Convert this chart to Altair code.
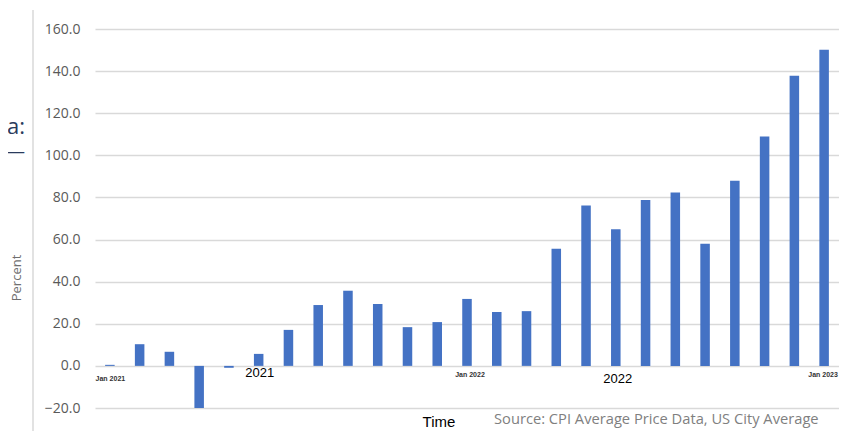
import altair as alt
import pandas as pd

months = ["Jan 2021", "Feb 2021", "Mar 2021", "Apr 2021", "May 2021", "Jun 2021",
          "Jul 2021", "Aug 2021", "Sep 2021", "Oct 2021", "Nov 2021", "Dec 2021",
          "Jan 2022", "Feb 2022", "Mar 2022", "Apr 2022", "May 2022", "Jun 2022",
          "Jul 2022", "Aug 2022", "Sep 2022", "Oct 2022", "Nov 2022", "Dec 2022",
          "Jan 2023"]
percent = [0.5, 10.3, 6.7, -20.0, -0.9, 5.7, 17.1, 28.9, 35.7, 29.4, 18.4, 20.8,
           31.8, 25.6, 26.0, 55.6, 76.2, 64.9, 78.8, 82.4, 58.0, 87.9, 109.0, 137.8, 150.2]
y_ticks = [-20, 0, 20, 40, 60, 80, 100, 120, 140, 160]

df = pd.DataFrame({"month": months, "pct": percent})

xs = alt.X("month:N", sort=months,
           scale=alt.Scale(domain=months, paddingInner=0.68, paddingOuter=0.34),
           axis=None)

bars = alt.Chart(df).mark_bar(color="#4472C4", clip=True).encode(
    x=xs,
    y=alt.Y("pct:Q",
            scale=alt.Scale(domain=[-20, 160], nice=False, clamp=True),
            axis=alt.Axis(values=y_ticks, format=".1f", title=None,
                          labelFont="Open Sans", labelFontSize=14,
                          labelColor="#595959", labelPadding=15,
                          ticks=False, domain=False,
                          gridColor="#d9d9d9", gridWidth=1.5)),
)


def lab(month, text, y, dx, size, weight="normal", color="#000000", font="Liberation Sans"):
    d = pd.DataFrame({"month": [month], "t": [text]})
    return alt.Chart(d).mark_text(fontSize=size, fontWeight=weight, color=color,
                                  font=font, dx=dx, align="center", baseline="middle").encode(
        x=xs, y=alt.value(y), text="t:N")


jan21 = lab("Jan 2021", "Jan 2021", 350, 0.5, 7, "bold", "#333333")
jan22 = lab("Jan 2022", "Jan 2022", 346, 3, 7, "bold", "#333333")
jan23 = lab("Jan 2023", "Jan 2023", 346, -1, 7, "bold", "#333333")
y2021 = lab("Jun 2021", "2021", 344, 1, 13)
y2022 = lab("Jun 2022", "2022", 350, 2, 13)

def free_text(text, x, y, size, color, font, align="left", angle=0, weight="normal"):
    d = pd.DataFrame({"t": [text]})
    kw = dict(fontSize=size, color=color, font=font, align=align, baseline="middle",
              fontWeight=weight)
    if angle:
        kw["angle"] = angle
    return alt.Chart(d).mark_text(**kw).encode(x=alt.value(x), y=alt.value(y), text="t:N")

time_t = free_text("Time", 344, 393, 15, "#000000", "Liberation Sans", "center")
source_t = free_text("Source: CPI Average Price Data, US City Average", 399, 391, 14.7,
                     "#7f7f7f", "Open Sans")
percent_t = free_text("Percent", -78, 249, 13, "#6f6f6f", "Open Sans", "center", 270)
frag1 = free_text("a:", -88, 98, 22, "#2a3b5c", "Open Sans")
frag2 = free_text("—", -88, 124, 18, "#2a3b5c", "Open Sans")

vline = alt.Chart(pd.DataFrame({"k": [0]})).mark_rule(color="#d9d9d9", strokeWidth=1.5).encode(
    x=alt.value(-62), y=alt.value(-19), y2=alt.value(412))

chart = alt.layer(vline, bars, jan21, jan22, jan23, y2021, y2022, time_t, source_t,
                  percent_t, frag1, frag2).properties(
    width=744, height=379,
    padding={"left": 87, "top": 21, "right": 0, "bottom": 23},
    autosize=alt.AutoSizeParams(type="none"),
).configure_view(stroke=None)

chart.save("out.html", embed_options={"renderer": "svg", "actions": False})
